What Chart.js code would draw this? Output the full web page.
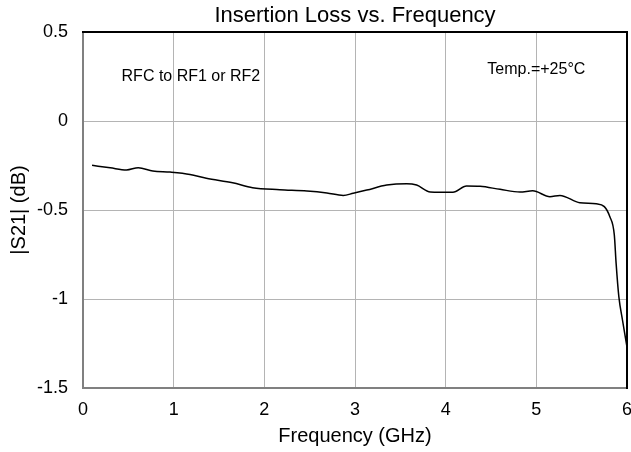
<!DOCTYPE html>
<html>
<head>
<meta charset="utf-8">
<script src="https://cdn.jsdelivr.net/npm/chart.js@4"></script>
<style>
  html, body { margin: 0; padding: 0; background: #fff; }
  #wrap { width: 631px; height: 452px; }
</style>
</head>
<body>
<div id="wrap"><canvas id="lossChart" width="631" height="452"></canvas></div>
<script>
// frequency (GHz) and |S21| (dB)
const freqGHz = [0.1, 0.3, 0.48, 0.61, 0.77, 0.96, 1.18, 1.36, 1.65, 1.87, 2.17, 2.47, 2.69, 2.87, 2.98,
  3.13, 3.35, 3.57, 3.68, 3.83, 3.94, 4.08, 4.23, 4.38, 4.6, 4.82, 4.96, 5.15, 5.26, 5.48, 5.66,
  5.75, 5.81, 5.86, 5.88, 5.91, 5.95, 6.0]
const s21dB = [-0.249, -0.263, -0.275, -0.262, -0.281, -0.287, -0.30, -0.322, -0.347, -0.375, -0.386, -0.393, -0.404, -0.418, -0.406,
  -0.388, -0.36, -0.352, -0.36, -0.399, -0.40, -0.40, -0.365, -0.367, -0.384, -0.399, -0.392, -0.425, -0.418, -0.459, -0.465,
  -0.481, -0.537, -0.64, -0.8, -0.987, -1.118, -1.27]

const xTicks = [0, 1, 2, 3, 4, 5, 6]
const yTicks = [0.5, 0, -0.5, -1, -1.5]

const notes = [
  { text: "RFC to RF1 or RF2", x: 1.19, y: 0.25 },
  { text: "Temp.=+25°C", x: 5.0, y: 0.287 },
]

const FONT = "'Liberation Sans', Arial, sans-serif"

const frame = {
  id: "frame",
  afterDraw(chart) {
    const { ctx, chartArea: a, scales } = chart
    ctx.save()
    ctx.lineWidth = 2
    ctx.strokeStyle = "#808080"
    ctx.beginPath()
    ctx.moveTo(a.left, a.top)
    ctx.lineTo(a.left, a.bottom)
    ctx.lineTo(a.right, a.bottom)
    ctx.stroke()
    ctx.strokeStyle = "#000"
    ctx.beginPath()
    ctx.moveTo(a.left - 1, a.top)
    ctx.lineTo(a.right, a.top)
    ctx.lineTo(a.right, a.bottom + 1)
    ctx.stroke()

    ctx.fillStyle = "#000"
    ctx.font = "16px " + FONT
    ctx.textAlign = "center"
    ctx.textBaseline = "middle"
    notes.forEach(n => {
      ctx.fillText(n.text, scales.x.getPixelForValue(n.x), scales.y.getPixelForValue(n.y))
    })
    ctx.restore()
  }
}

new Chart(document.getElementById("lossChart"), {
  type: "line",
  data: {
    datasets: [{
      data: freqGHz.map((f, i) => ({ x: f, y: s21dB[i] })),
      borderColor: "#000",
      borderWidth: 1.5,
      pointRadius: 0,
      fill: false,
      cubicInterpolationMode: "monotone",
    }]
  },
  options: {
    responsive: false,
    animation: false,
    layout: { padding: { left: 0, right: 4, top: 0, bottom: 0 } },
    plugins: {
      legend: { display: false },
      tooltip: { enabled: false },
      title: {
        display: true,
        fullSize: false,
        text: "Insertion Loss vs. Frequency",
        color: "#000",
        font: { family: FONT, size: 22, weight: "normal" },
        padding: { top: 3, bottom: 2.6 },
      },
    },
    scales: {
      x: {
        type: "linear",
        min: 0, max: 6,
        afterBuildTicks: s => { s.ticks = xTicks.map(v => ({ value: v })) },
        afterFit: s => { s.height = 64; s.paddingLeft = 0; s.paddingRight = 0 },
        grid: { color: "#b4b4b4", lineWidth: 1, drawTicks: false },
        border: { display: false },
        ticks: { color: "#000", font: { family: FONT, size: 18 }, padding: 11, callback: v => String(v) },
        title: { display: true, text: "Frequency (GHz)", color: "#000", font: { family: FONT, size: 20 }, padding: { top: 11 } },
      },
      y: {
        min: -1.5, max: 0.5,
        afterBuildTicks: s => { s.ticks = yTicks.map(v => ({ value: v })) },
        afterFit: s => { s.width = 83; s.paddingTop = 0; s.paddingBottom = 0 },
        grid: { color: "#b4b4b4", lineWidth: 1, drawTicks: false },
        border: { display: false },
        ticks: { color: "#000", font: { family: FONT, size: 18 }, padding: 15, callback: v => String(v) },
        title: { display: true, text: "|S21| (dB)", color: "#000", font: { family: FONT, size: 20 }, padding: { top: 7 } },
      },
    },
  },
  plugins: [frame],
})
</script>
</body>
</html>
